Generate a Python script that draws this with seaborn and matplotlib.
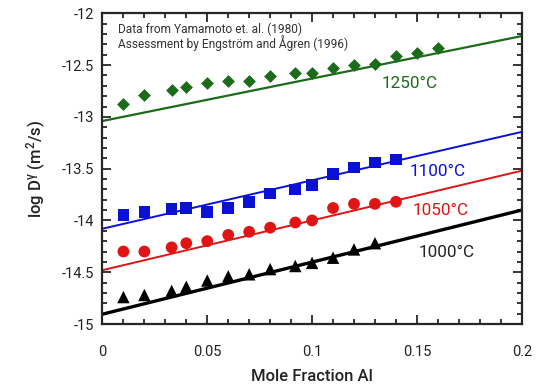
import matplotlib
matplotlib.use("Agg")
import matplotlib.pyplot as plt
from matplotlib.ticker import MultipleLocator
import seaborn as sns

# mole fraction Al for each measured point
x_1250 = [0.01, 0.02, 0.033, 0.04, 0.05, 0.06, 0.07, 0.08, 0.092, 0.10, 0.11, 0.12, 0.13, 0.14, 0.15, 0.16]
y_1250 = [-12.88, -12.79, -12.74, -12.71, -12.67, -12.65, -12.65, -12.61, -12.58, -12.58, -12.53, -12.50, -12.49, -12.41, -12.38, -12.34]

x_1100 = [0.01, 0.02, 0.033, 0.04, 0.05, 0.06, 0.07, 0.08, 0.092, 0.10, 0.11, 0.12, 0.13, 0.14]
y_1100 = [-13.95, -13.92, -13.89, -13.88, -13.92, -13.88, -13.82, -13.74, -13.70, -13.66, -13.55, -13.49, -13.44, -13.41]

x_1050 = [0.01, 0.02, 0.033, 0.04, 0.05, 0.06, 0.07, 0.08, 0.092, 0.10, 0.11, 0.12, 0.13, 0.14]
y_1050 = [-14.30, -14.30, -14.26, -14.22, -14.20, -14.14, -14.11, -14.07, -14.02, -14.00, -13.88, -13.84, -13.84, -13.82]

x_1000 = [0.01, 0.02, 0.033, 0.04, 0.05, 0.06, 0.07, 0.08, 0.092, 0.10, 0.11, 0.12, 0.13]
y_1000 = [-14.74, -14.72, -14.68, -14.64, -14.58, -14.54, -14.52, -14.47, -14.44, -14.41, -14.36, -14.28, -14.22]

# assessed lines (end points)
x_fit = [0.0, 0.2]
fit_1250 = [-13.04, -12.22]
fit_1100 = [-14.08, -13.145]
fit_1050 = [-14.48, -13.52]
fit_1000 = [-14.905, -13.90]

x_ticks = [0, 0.05, 0.1, 0.15, 0.2]
x_ticklabels = ["0", "0.05", "0.1", "0.15", "0.2"]
y_ticks = [-15, -14.5, -14, -13.5, -13, -12.5, -12]
y_ticklabels = ["-15", "-14.5", "-14", "-13.5", "-13", "-12.5", "-12"]

green = "#1b6b1b"
blue = "#0a10d6"
red = "#e01414"
black = "#000000"

sns.set_style("ticks")
plt.rcParams["font.family"] = ["Roboto", "DejaVu Sans"]
plt.rcParams["mathtext.default"] = "regular"

fig = plt.figure(figsize=(5.49, 3.85), dpi=100)
ax = fig.add_axes([0.1866, 0.1584, 0.7637, 0.8071])

# fitted lines
sns.lineplot(x=x_fit, y=fit_1250, color=green, lw=1.6, ax=ax)
sns.lineplot(x=x_fit, y=fit_1100, color=blue, lw=1.4, ax=ax)
sns.lineplot(x=x_fit, y=fit_1050, color=red, lw=1.4, ax=ax)
sns.lineplot(x=x_fit, y=fit_1000, color=black, lw=2.4, ax=ax)

# experimental points
sns.scatterplot(x=x_1250, y=y_1250, marker="D", s=36, color=green, edgecolor=green, linewidth=0.5, ax=ax, zorder=3)
sns.scatterplot(x=x_1100, y=y_1100, marker="s", s=70, color=blue, edgecolor="none", ax=ax, zorder=3)
sns.scatterplot(x=x_1050, y=y_1050, marker="o", s=72, color=red, edgecolor="none", ax=ax, zorder=3)
sns.scatterplot(x=x_1000, y=y_1000, marker="^", s=80, color=black, edgecolor="none", ax=ax, zorder=3)

# temperature labels
ax.text(0.1333, -12.68, "1250°C", color=green, fontsize=12.3, va="center", ha="left")
ax.text(0.1463, -13.53, "1100°C", color=blue, fontsize=12.3, va="center", ha="left")
ax.text(0.148, -13.90, "1050°C", color=red, fontsize=12.3, va="center", ha="left")
ax.text(0.151, -14.31, "1000°C", color="#222222", fontsize=12.3, va="center", ha="left")

ax.text(0.0074, -12.15, "Data from Yamamoto et. al. (1980)", color="#333333", fontsize=8.6, va="center")
ax.text(0.0074, -12.29, "Assessment by Engström and Ågren (1996)", color="#333333", fontsize=8.6, va="center")

ax.set_xlim(0, 0.2)
ax.set_ylim(-15, -12)
ax.set_xticks(x_ticks)
ax.set_xticklabels(x_ticklabels)
ax.set_yticks(y_ticks)
ax.set_yticklabels(y_ticklabels)
ax.xaxis.set_minor_locator(MultipleLocator(0.01))
ax.yaxis.set_minor_locator(MultipleLocator(0.1))

ax.tick_params(which="both", direction="in", top=True, right=True, width=1.1, color="black")
ax.tick_params(which="major", length=6.5)
ax.tick_params(which="minor", length=3.5)
ax.tick_params(axis="x", which="major", pad=15, labelsize=10.5, labelcolor="#222222")
ax.tick_params(axis="y", which="major", pad=6, labelsize=10.5, labelcolor="#222222")

for side in ["left", "right", "top", "bottom"]:
    ax.spines[side].set_linewidth(1.6)
    ax.spines[side].set_visible(True)

ax.set_xlabel("Mole Fraction Al", fontsize=12, fontweight="medium", labelpad=7, color="#222222")
ax.set_ylabel(r"log D$^{\gamma}$ (m$^{2}$/s)", fontsize=12, fontweight="medium", labelpad=10, color="#222222")

fig.savefig("out.png", dpi=100)
